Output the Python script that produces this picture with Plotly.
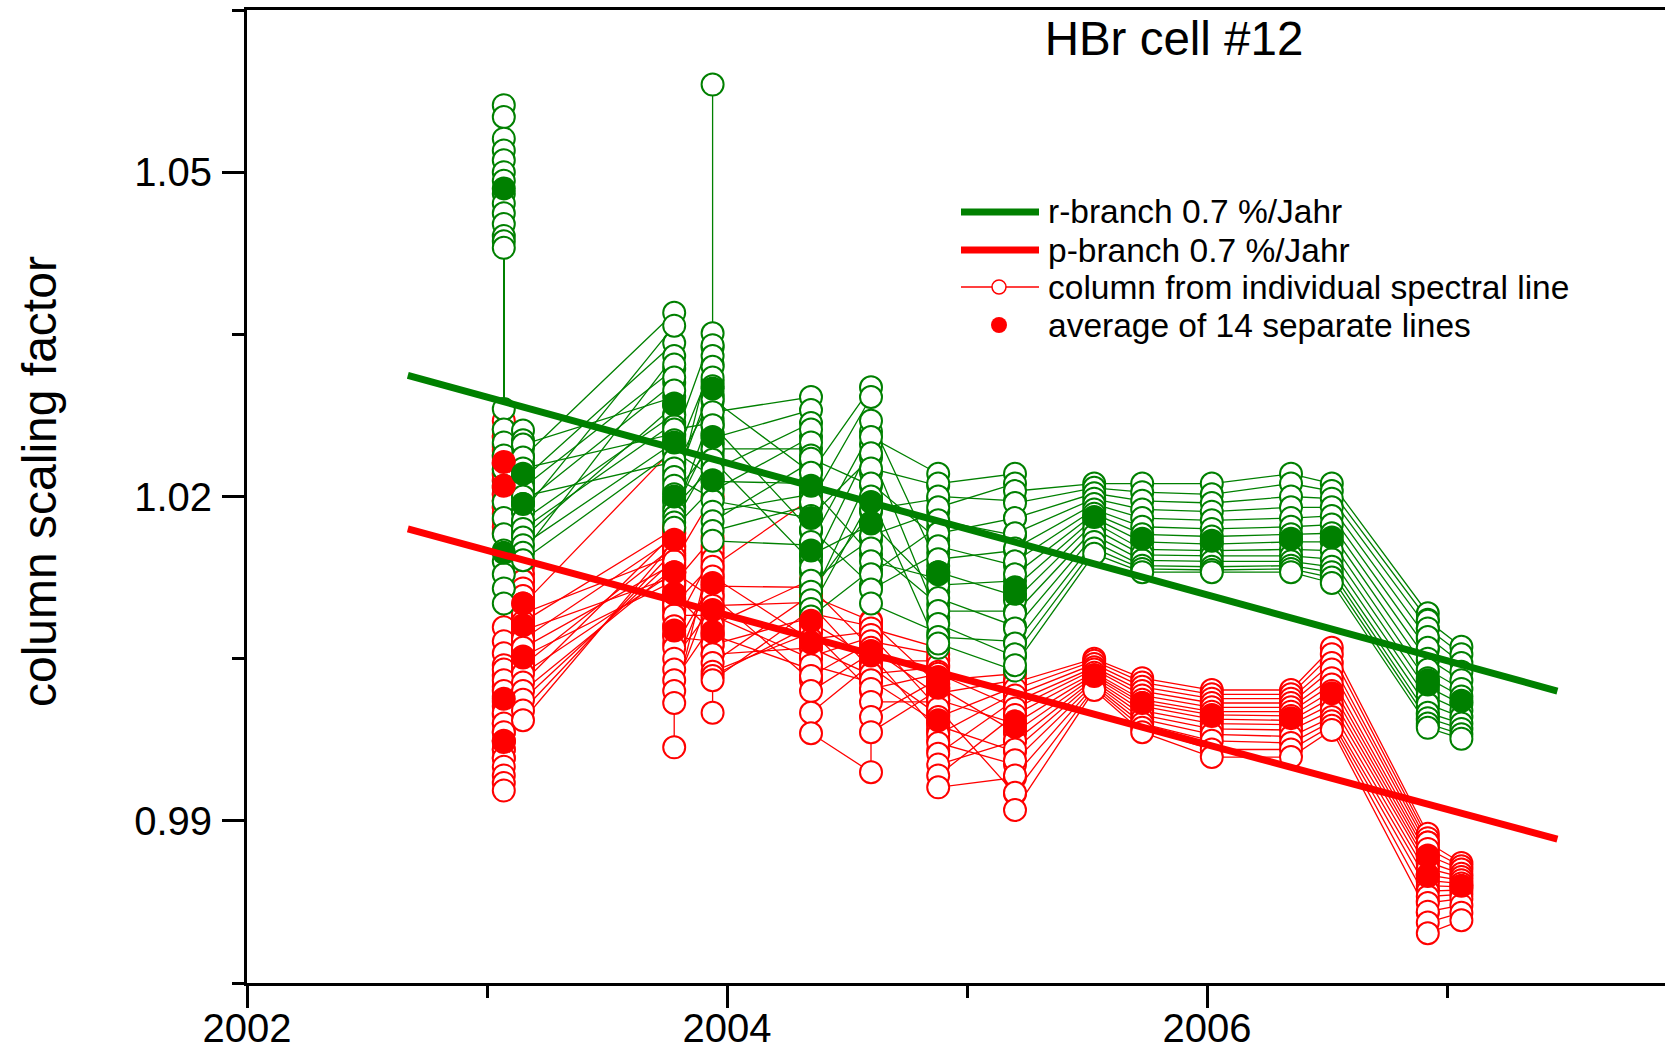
import plotly.graph_objects as go

# ---------------- data ----------------
# dates (decimal years) of the individual spectra, r-branch (green)
r_dates = [2003.07, 2003.07, 2003.15, 2003.15, 2003.78, 2003.78, 2003.78,
           2003.94, 2003.94, 2003.94, 2004.35, 2004.35, 2004.35, 2004.60,
           2004.60, 2004.88, 2004.88, 2005.20, 2005.20, 2005.53, 2005.73,
           2006.02, 2006.35, 2006.52, 2006.92, 2006.92, 2007.06]
# column from each of the 14 spectral lines, per spectrum (r-branch)
r_lines = [
    [1.0562, 1.0551, 1.0531, 1.0520, 1.0511, 1.0500, 1.0492, 1.0480, 1.0471, 1.0462, 1.0452, 1.0441, 1.0436, 1.0430],
    [1.0281, 1.0262, 1.0250, 1.0238, 1.0225, 1.0210, 1.0195, 1.0180, 1.0165, 1.0150, 1.0140, 1.0128, 1.0115, 1.0101],
    [1.0261, 1.0252, 1.0245, 1.0238, 1.0230, 1.0224, 1.0218, 1.0212, 1.0206, 1.0200, 1.0194, 1.0186, 1.0176, 1.0165],
    [1.0248, 1.0236, 1.0226, 1.0216, 1.0208, 1.0200, 1.0193, 1.0186, 1.0178, 1.0170, 1.0162, 1.0155, 1.0148, 1.0141],
    [1.0292, 1.0370, 1.0258, 1.0342, 1.0318, 1.0232, 1.0305, 1.0358, 1.0276, 1.0268, 1.0284, 1.0250, 1.0330, 1.0242],
    [1.0322, 1.0310, 1.0298, 1.0286, 1.0275, 1.0265, 1.0256, 1.0248, 1.0240, 1.0230, 1.0222, 1.0214, 1.0205, 1.0196],
    [1.0262, 1.0252, 1.0242, 1.0234, 1.0226, 1.0218, 1.0210, 1.0202, 1.0196, 1.0190, 1.0186, 1.0181, 1.0176, 1.0171],
    [1.0268, 1.0351, 1.0218, 1.0322, 1.0292, 1.0198, 1.0306, 1.0248, 1.0338, 1.0228, 1.0258, 1.0280, 1.0238, 1.0208],
    [1.0581, 1.0340, 1.0330, 1.0320, 1.0310, 1.0302, 1.0295, 1.0288, 1.0280, 1.0272, 1.0265, 1.0258, 1.0250, 1.0242],
    [1.0290, 1.0278, 1.0266, 1.0254, 1.0244, 1.0234, 1.0224, 1.0214, 1.0205, 1.0196, 1.0186, 1.0177, 1.0168, 1.0159],
    [1.0222, 1.0292, 1.0168, 1.0280, 1.0244, 1.0140, 1.0268, 1.0212, 1.0255, 1.0180, 1.0202, 1.0232, 1.0192, 1.0155],
    [1.0262, 1.0250, 1.0238, 1.0226, 1.0214, 1.0202, 1.0190, 1.0180, 1.0168, 1.0156, 1.0144, 1.0130, 1.0116, 1.0102],
    [1.0235, 1.0222, 1.0208, 1.0195, 1.0182, 1.0170, 1.0158, 1.0146, 1.0134, 1.0122, 1.0112, 1.0104, 1.0096, 1.0089],
    [1.0210, 1.0301, 1.0146, 1.0292, 1.0236, 1.0118, 1.0260, 1.0174, 1.0248, 1.0160, 1.0186, 1.0222, 1.0198, 1.0132],
    [1.0270, 1.0255, 1.0240, 1.0226, 1.0212, 1.0200, 1.0188, 1.0176, 1.0164, 1.0152, 1.0140, 1.0128, 1.0114, 1.0101],
    [1.0136, 1.0221, 1.0088, 1.0210, 1.0160, 1.0060, 1.0198, 1.0112, 1.0186, 1.0100, 1.0124, 1.0172, 1.0148, 1.0074],
    [1.0212, 1.0200, 1.0190, 1.0178, 1.0166, 1.0154, 1.0142, 1.0130, 1.0118, 1.0106, 1.0094, 1.0082, 1.0070, 1.0064],
    [1.0221, 1.0196, 1.0212, 1.0164, 1.0180, 1.0136, 1.0150, 1.0108, 1.0122, 1.0080, 1.0094, 1.0052, 1.0066, 1.0039],
    [1.0205, 1.0194, 1.0180, 1.0166, 1.0152, 1.0140, 1.0128, 1.0116, 1.0104, 1.0092, 1.0078, 1.0064, 1.0054, 1.0044],
    [1.0212, 1.0208, 1.0203, 1.0198, 1.0193, 1.0188, 1.0184, 1.0180, 1.0176, 1.0170, 1.0164, 1.0158, 1.0152, 1.0147],
    [1.0212, 1.0204, 1.0196, 1.0188, 1.0180, 1.0172, 1.0165, 1.0158, 1.0151, 1.0146, 1.0141, 1.0136, 1.0133, 1.0130],
    [1.0212, 1.0202, 1.0194, 1.0186, 1.0178, 1.0170, 1.0163, 1.0156, 1.0150, 1.0145, 1.0140, 1.0135, 1.0132, 1.0130],
    [1.0221, 1.0212, 1.0200, 1.0190, 1.0180, 1.0172, 1.0165, 1.0158, 1.0151, 1.0145, 1.0140, 1.0136, 1.0133, 1.0130],
    [1.0212, 1.0205, 1.0198, 1.0190, 1.0182, 1.0174, 1.0166, 1.0158, 1.0150, 1.0142, 1.0135, 1.0130, 1.0125, 1.0120],
    [1.0092, 1.0086, 1.0078, 1.0068, 1.0058, 1.0048, 1.0038, 1.0028, 1.0020, 1.0012, 1.0005, 0.9998, 0.9993, 0.9988],
    [1.0085, 1.0078, 1.0070, 1.0060, 1.0050, 1.0040, 1.0032, 1.0024, 1.0016, 1.0008, 1.0000, 0.9995, 0.9990, 0.9986],
    [1.0061, 1.0054, 1.0046, 1.0038, 1.0030, 1.0022, 1.0015, 1.0008, 1.0002, 0.9996, 0.9990, 0.9985, 0.9980, 0.9976],
]
# average of the 14 lines per spectrum (r-branch)
r_avg = [1.0485, 1.0148, 1.0221, 1.0193, 1.0285, 1.0250, 1.0200, 1.0255, 1.0300,
         1.0215, 1.0210, 1.0180, 1.0150, 1.0195, 1.0175, 1.0130, 1.0128, 1.0115,
         1.0110, 1.0181, 1.0161, 1.0159, 1.0161, 1.0162, 1.0030, 1.0026, 1.0011]

# p-branch (red)
p_dates = [2003.07, 2003.07, 2003.07, 2003.07, 2003.15, 2003.15, 2003.15,
           2003.78, 2003.78, 2003.78, 2003.78, 2003.94, 2003.94, 2003.94,
           2004.35, 2004.35, 2004.60, 2004.60, 2004.88, 2004.88, 2004.88,
           2005.20, 2005.20, 2005.53, 2005.73, 2006.02, 2006.35, 2006.52,
           2006.92, 2006.92, 2007.06]
p_lines = [
    [1.0270, 1.0262, 1.0255, 1.0248, 1.0242, 1.0236, 1.0230, 1.0225, 1.0220, 1.0214, 1.0208, 1.0202, 1.0196, 1.0190],
    [1.0255, 1.0246, 1.0238, 1.0230, 1.0222, 1.0215, 1.0208, 1.0202, 1.0196, 1.0190, 1.0184, 1.0178, 1.0172, 1.0166],
    [1.0079, 1.0066, 1.0055, 1.0044, 1.0034, 1.0024, 1.0015, 1.0006, 0.9998, 0.9990, 0.9982, 0.9974, 0.9966, 0.9958],
    [1.0040, 1.0030, 1.0020, 1.0010, 1.0000, 0.9990, 0.9982, 0.9974, 0.9966, 0.9958, 0.9950, 0.9942, 0.9935, 0.9928],
    [1.0135, 1.0128, 1.0122, 1.0116, 1.0110, 1.0104, 1.0099, 1.0094, 1.0088, 1.0082, 1.0076, 1.0070, 1.0064, 1.0058],
    [1.0122, 1.0115, 1.0108, 1.0101, 1.0094, 1.0087, 1.0081, 1.0075, 1.0069, 1.0063, 1.0057, 1.0051, 1.0045, 1.0040],
    [1.0100, 1.0092, 1.0084, 1.0076, 1.0068, 1.0060, 1.0052, 1.0044, 1.0036, 1.0028, 1.0020, 1.0012, 1.0002, 0.9993],
    [1.0245, 1.0146, 1.0170, 1.0126, 1.0162, 1.0138, 1.0122, 1.0154, 1.0130, 1.0166, 1.0134, 1.0142, 1.0150, 1.0158],
    [1.0172, 1.0166, 1.0160, 1.0154, 1.0148, 1.0142, 1.0136, 1.0130, 1.0124, 1.0118, 1.0112, 1.0106, 1.0100, 1.0094],
    [1.0160, 1.0152, 1.0144, 1.0136, 1.0128, 1.0120, 1.0112, 1.0104, 1.0096, 1.0088, 1.0080, 1.0072, 1.0064, 0.9968],
    [1.0140, 1.0130, 1.0120, 1.0110, 1.0100, 1.0090, 1.0080, 1.0070, 1.0060, 1.0050, 1.0040, 1.0030, 1.0020, 1.0009],
    [1.0200, 1.0106, 1.0162, 1.0074, 1.0138, 1.0090, 1.0146, 1.0066, 1.0122, 1.0098, 1.0130, 1.0082, 1.0114, 1.0154],
    [1.0150, 1.0142, 1.0134, 1.0126, 1.0118, 1.0110, 1.0102, 1.0094, 1.0086, 1.0078, 1.0070, 1.0062, 1.0054, 1.0000],
    [1.0135, 1.0126, 1.0117, 1.0108, 1.0099, 1.0090, 1.0081, 1.0072, 1.0063, 1.0054, 1.0046, 1.0038, 1.0034, 1.0030],
    [1.0198, 1.0067, 1.0116, 1.0030, 1.0102, 1.0050, 1.0123, 1.0040, 1.0088, 1.0060, 1.0109, 1.0074, 1.0081, 1.0095],
    [1.0116, 1.0108, 1.0100, 1.0092, 1.0084, 1.0076, 1.0068, 1.0060, 1.0052, 1.0044, 1.0034, 1.0020, 1.0000, 0.9981],
    [1.0060, 1.0085, 1.0040, 1.0080, 1.0050, 1.0020, 1.0075, 1.0035, 1.0070, 1.0028, 1.0065, 1.0055, 1.0045, 0.9945],
    [1.0084, 1.0078, 1.0072, 1.0066, 1.0060, 1.0054, 1.0048, 1.0042, 1.0036, 1.0030, 1.0022, 1.0010, 0.9996, 0.9982],
    [1.0026, 1.0060, 1.0004, 1.0054, 1.0016, 0.9982, 1.0048, 0.9998, 1.0042, 0.9990, 1.0036, 1.0010, 1.0031, 1.0021],
    [1.0050, 1.0044, 1.0038, 1.0032, 1.0027, 1.0022, 1.0017, 1.0012, 1.0006, 1.0000, 0.9992, 0.9984, 0.9975, 0.9965],
    [1.0036, 1.0030, 1.0024, 1.0018, 1.0012, 1.0004, 0.9996, 0.9988, 0.9980, 0.9972, 0.9962, 0.9952, 0.9942, 0.9931],
    [1.0005, 1.0036, 0.9982, 1.0030, 0.9990, 0.9925, 1.0024, 0.9964, 1.0018, 0.9952, 1.0012, 0.9974, 0.9998, 0.9940],
    [1.0028, 1.0022, 1.0016, 1.0010, 1.0004, 0.9998, 0.9990, 0.9982, 0.9974, 0.9966, 0.9956, 0.9942, 0.9926, 0.9910],
    [1.0050, 1.0048, 1.0045, 1.0042, 1.0040, 1.0037, 1.0035, 1.0033, 1.0031, 1.0029, 1.0027, 1.0025, 1.0023, 1.0021],
    [1.0032, 1.0028, 1.0024, 1.0020, 1.0016, 1.0012, 1.0009, 1.0006, 1.0002, 0.9998, 0.9994, 0.9990, 0.9986, 0.9982],
    [1.0021, 1.0017, 1.0013, 1.0009, 1.0005, 1.0001, 0.9998, 0.9994, 0.9990, 0.9985, 0.9980, 0.9974, 0.9966, 0.9959],
    [1.0021, 1.0017, 1.0013, 1.0009, 1.0005, 1.0001, 0.9997, 0.9993, 0.9989, 0.9984, 0.9978, 0.9972, 0.9966, 0.9959],
    [1.0060, 1.0054, 1.0046, 1.0040, 1.0032, 1.0026, 1.0020, 1.0014, 1.0008, 1.0002, 0.9996, 0.9992, 0.9988, 0.9984],
    [0.9888, 0.9884, 0.9880, 0.9876, 0.9872, 0.9868, 0.9864, 0.9860, 0.9856, 0.9850, 0.9844, 0.9836, 0.9826, 0.9815],
    [0.9880, 0.9874, 0.9868, 0.9862, 0.9856, 0.9850, 0.9845, 0.9840, 0.9835, 0.9830, 0.9824, 0.9816, 0.9806, 0.9796],
    [0.9861, 0.9858, 0.9855, 0.9851, 0.9848, 0.9845, 0.9842, 0.9839, 0.9836, 0.9832, 0.9828, 0.9822, 0.9815, 0.9808],
]
p_avg = [1.0232, 1.0210, 1.0013, 0.9973, 1.0101, 1.0081, 1.0051, 1.0160, 1.0130,
         1.0110, 1.0076, 1.0120, 1.0095, 1.0075, 1.0085, 1.0065, 1.0057, 1.0053,
         1.0033, 1.0023, 0.9993, 0.9992, 0.9987, 1.0034, 1.0009, 0.9997, 0.9995,
         1.0018, 0.9867, 0.9849, 0.9840]

# linear trends
fit_years = [2002.67, 2007.46]
r_fit = [1.0312, 1.0020]
p_fit = [1.0170, 0.9883]

x_ticks = [2002, 2004, 2006]
x_ticklabels = ["2002", "2004", "2006"]
x_minor = [2003, 2005, 2007]
y_ticks = [0.99, 1.02, 1.05]
y_ticklabels = ["0.99", "1.02", "1.05"]
y_minor = [0.975, 1.005, 1.035, 1.065]

legend_labels = ["r-branch 0.7 %/Jahr", "p-branch 0.7 %/Jahr",
                 "column from individual spectral line",
                 "average of 14 separate lines"]

GREEN = "rgb(0,128,0)"
RED = "rgb(255,0,0)"
FONT = "Liberation Sans, Arial, sans-serif"
N_LINES = 14

fig = go.Figure()

# thin connecting lines, one trace per spectral line
for dates, lines, col in [(p_dates, p_lines, RED), (r_dates, r_lines, GREEN)]:
    for j in range(N_LINES):
        fig.add_trace(go.Scatter(
            x=dates, y=[spec[j] for spec in lines], mode="lines",
            line=dict(color=col, width=1.3, simplify=False),
            hoverinfo="skip", showlegend=False))

# open circles for the individual spectral lines
for dates, lines, col in [(p_dates, p_lines, RED), (r_dates, r_lines, GREEN)]:
    xs, ys = [], []
    for d, spec in zip(dates, lines):
        xs.extend([d] * len(spec))
        ys.extend(spec)
    fig.add_trace(go.Scatter(
        x=xs, y=ys, mode="markers",
        marker=dict(symbol="circle", size=22, color="white",
                    line=dict(color=col, width=2)),
        showlegend=False))

# averages
for dates, avg, col in [(p_dates, p_avg, RED), (r_dates, r_avg, GREEN)]:
    fig.add_trace(go.Scatter(
        x=dates, y=avg, mode="markers",
        marker=dict(symbol="circle", size=24, color=col, line=dict(width=0)),
        showlegend=False))

# trend lines
fig.add_trace(go.Scatter(x=fit_years, y=r_fit, mode="lines",
                         line=dict(color=GREEN, width=7), showlegend=False))
fig.add_trace(go.Scatter(x=fit_years, y=p_fit, mode="lines",
                         line=dict(color=RED, width=7), showlegend=False))

# ---------------- layout ----------------
W, H = 1665, 1051
L, T, B = 247, 10, 68
pw, ph = W - L, H - T - B
x0 = 2002
x1 = x0 + pw / 240.0


def px(xp):
    return (xp - L) / pw


def py(yp):
    return (H - B - yp) / ph


axis_common = dict(showline=True, linewidth=3, linecolor="black",
                   ticks="outside", ticklen=22, tickwidth=3, tickcolor="black",
                   showgrid=False, zeroline=False, automargin=False,
                   tickfont=dict(family=FONT, size=40, color="black"))

fig.update_layout(
    width=W, height=H,
    margin=dict(l=L, r=0, t=T, b=B, autoexpand=False),
    plot_bgcolor="white", paper_bgcolor="white",
    showlegend=False,
    title=dict(text="HBr cell #12", x=1174 / W, y=1 - 38 / H,
               xanchor="center", yanchor="middle", xref="container",
               yref="container", automargin=False,
               font=dict(family=FONT, size=47.5, color="black")),
    xaxis=dict(range=[x0, x1], tickvals=x_ticks, ticktext=x_ticklabels,
               mirror=True, ticklabelstandoff=-14,
               minor=dict(tickvals=x_minor, ticks="outside", ticklen=12,
                          tickwidth=3, tickcolor="black", showgrid=False),
               **axis_common),
    yaxis=dict(range=[0.975, 1.065], tickvals=y_ticks, ticktext=y_ticklabels,
               ticklabelstandoff=2,
               minor=dict(tickvals=y_minor, ticks="outside", ticklen=12,
                          tickwidth=3, tickcolor="black", showgrid=False),
               **axis_common),
)

annotations = [dict(text="column scaling factor", textangle=-90,
                    xref="paper", yref="paper", x=px(40), y=py(482),
                    xanchor="center", yanchor="middle", showarrow=False,
                    font=dict(family=FONT, size=48, color="black"))]

row_y = [212, 250, 287, 325]
for lab, yy in zip(legend_labels, row_y):
    annotations.append(dict(text=lab, xref="paper", yref="paper",
                            x=px(1046), y=py(yy), xanchor="left",
                            yanchor="middle", showarrow=False,
                            font=dict(family=FONT, size=33.5, color="black")))

shapes = [
    dict(type="line", xref="paper", yref="paper", x0=px(961), x1=px(1039),
         y0=py(row_y[0]), y1=py(row_y[0]), line=dict(color=GREEN, width=7)),
    dict(type="line", xref="paper", yref="paper", x0=px(961), x1=px(1039),
         y0=py(row_y[1]), y1=py(row_y[1]), line=dict(color=RED, width=7)),
    dict(type="line", xref="paper", yref="paper", x0=px(961), x1=px(1039),
         y0=py(row_y[2]), y1=py(row_y[2]), line=dict(color=RED, width=1.3)),
    dict(type="circle", xref="paper", yref="paper",
         x0=px(999 - 7), x1=px(999 + 7), y0=py(row_y[2] + 7), y1=py(row_y[2] - 7),
         fillcolor="white", line=dict(color=RED, width=1.5)),
    dict(type="circle", xref="paper", yref="paper",
         x0=px(999 - 8), x1=px(999 + 8), y0=py(row_y[3] + 8), y1=py(row_y[3] - 8),
         fillcolor=RED, line=dict(color=RED, width=0)),
]
fig.update_layout(annotations=annotations, shapes=shapes)

fig.write_html("out.html", config={"displayModeBar": False},
               post_script="document.body.style.margin='0';document.body.style.overflow='hidden';")
